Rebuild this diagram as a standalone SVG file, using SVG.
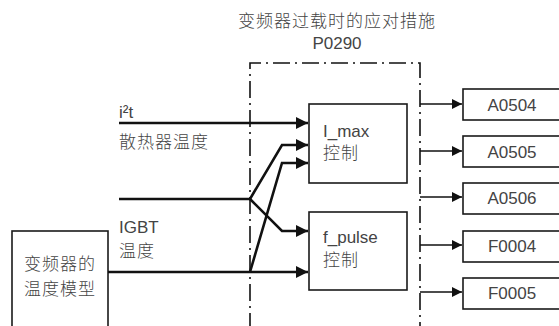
<svg xmlns="http://www.w3.org/2000/svg" width="559" height="326" viewBox="0 0 559 326">
<style>
.t{font-family:"Liberation Sans","Noto Sans CJK SC",sans-serif;font-size:17px;fill:#444}
.c{font-family:"Noto Sans CJK SC","Liberation Sans",sans-serif;font-size:17px;font-weight:300;fill:#444;letter-spacing:1px}
.box{fill:#fff;stroke:#1a1a1a;stroke-width:1.6}
.in{fill:none;stroke:#111;stroke-width:2.6;stroke-linejoin:miter}
.out{fill:none;stroke:#111;stroke-width:1.5}
.dd{fill:none;stroke:#111;stroke-width:1.6;stroke-dasharray:17 5 2 5}
</style>
<defs>
<marker id="ah" markerUnits="userSpaceOnUse" markerWidth="13" markerHeight="12" refX="12" refY="6" orient="auto">
<path d="M0,0 L12,6 L0,12 Z" fill="#111"/>
</marker>
<marker id="ah2" markerUnits="userSpaceOnUse" markerWidth="11" markerHeight="10" refX="10" refY="5" orient="auto">
<path d="M0,0 L10,5 L0,10 Z" fill="#111"/>
</marker>
</defs>
<g id="title">
<text class="c" x="337" y="27" text-anchor="middle">变频器过载时的应对措施</text>
<text class="t" x="337" y="49" text-anchor="middle">P0290</text>
</g>
<g id="boundary">
<path class="dd" d="M250,330 L250,63 L420,63 L420,330"/>
</g>
<g id="labels">
<text class="t" x="119" y="118">i²t</text>
<text class="c" x="119" y="148">散热器温度</text>
<text class="t" x="119" y="233">IGBT</text>
<text class="c" x="119" y="257">温度</text>
</g>
<g id="model">
<rect class="box" x="12" y="231" width="96" height="110"/>
<text class="c" x="60" y="270" text-anchor="middle">变频器的</text>
<text class="c" x="60" y="295" text-anchor="middle">温度模型</text>
</g>
<g id="imax">
<rect class="box" x="309" y="104" width="98" height="79"/>
<text class="t" x="323" y="137">I_max</text>
<text class="c" x="323" y="159">控制</text>
</g>
<g id="fpulse">
<rect class="box" x="309" y="212" width="98" height="78"/>
<text class="t" x="323" y="243">f_pulse</text>
<text class="c" x="323" y="266">控制</text>
</g>
<g id="A0504"><rect class="box" x="463" y="89" width="110" height="31"/><text class="t" x="512" y="111" text-anchor="middle">A0504</text></g>
<g id="A0505"><rect class="box" x="463" y="136" width="110" height="31"/><text class="t" x="512" y="158" text-anchor="middle">A0505</text></g>
<g id="A0506"><rect class="box" x="463" y="183" width="110" height="31"/><text class="t" x="512" y="204" text-anchor="middle">A0506</text></g>
<g id="F0004"><rect class="box" x="463" y="231" width="110" height="31"/><text class="t" x="512" y="252" text-anchor="middle">F0004</text></g>
<g id="F0005"><rect class="box" x="463" y="278" width="110" height="31"/><text class="t" x="512" y="299" text-anchor="middle">F0005</text></g>
<g id="connectors">
<path class="in" d="M119,123 L308,123" marker-end="url(#ah)"/>
<path class="in" d="M119,199 L250,199 L282,145 L308,145" marker-end="url(#ah)"/>
<path class="in" d="M250,199 L282,231 L308,231" marker-end="url(#ah)"/>
<path class="in" d="M108,272 L308,272" marker-end="url(#ah)"/>
<path class="in" d="M250,272 L282,163 L308,163" marker-end="url(#ah)"/>
<path class="out" d="M420,104 L462,104" marker-end="url(#ah2)"/>
<path class="out" d="M420,151 L462,151" marker-end="url(#ah2)"/>
<path class="out" d="M420,197 L462,197" marker-end="url(#ah2)"/>
<path class="out" d="M420,245 L462,245" marker-end="url(#ah2)"/>
<path class="out" d="M420,292 L462,292" marker-end="url(#ah2)"/>
</g>
</svg>
